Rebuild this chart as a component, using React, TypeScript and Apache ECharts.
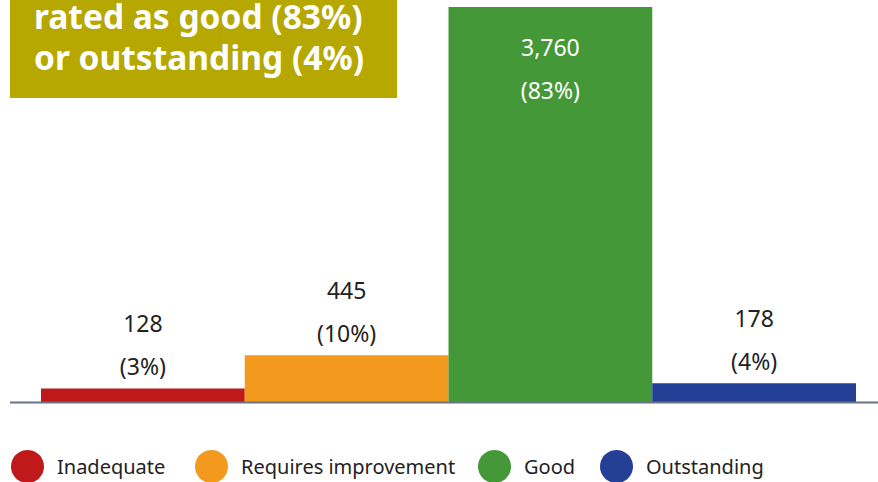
import React, { useEffect, useRef } from "react";
import * as echarts from "echarts";

const categories = ["Inadequate", "Requires improvement", "Good", "Outstanding"];
const counts = [128, 445, 3760, 178];
const percents = [3, 10, 83, 4];
const colors = ["#c0191b", "#f39a1e", "#459837", "#233f96"];
const titleLines = ["rated as good (83%)", "or outstanding (4%)"];
const legendLefts = [11, 195, 478, 600];

export default function App() {
  const ref = useRef<HTMLDivElement>(null);
  useEffect(() => {
    if (!ref.current) return;
    const chart = echarts.init(ref.current, undefined, { renderer: "svg" });
    const fmt = (i: number) => `${counts[i].toLocaleString("en-US")}\n(${percents[i]}%)`;
    const series = categories.map((name, i) => ({
      name,
      type: "bar",
      stack: "all",
      barWidth: "100%",
      data: counts.map((v, j) => (j === i ? v : "-")),
      itemStyle: { color: colors[i] },
      label: {
        show: true,
        position: i === 2 ? "insideTop" : "top",
        distance: i === 2 ? 18 : 1,
        formatter: () => fmt(i),
        color: i === 2 ? "#ffffff" : "#222222",
        fontFamily: "Noto Sans",
        fontSize: 23,
        lineHeight: 43,
      },
    }));
    chart.setOption({
      animation: false,
      grid: { left: 41, right: 22, top: 7, bottom: 80 },
      xAxis: {
        type: "category",
        data: categories,
        axisLine: { show: false },
        axisTick: { show: false },
        axisLabel: { show: false },
      },
      yAxis: { type: "value", min: 0, max: 3760, show: false, splitLine: { show: false } },
      legend: categories.map((name, i) => ({
        data: [name],
        left: legendLefts[i],
        top: 450,
        padding: 0,
        icon: "circle",
        itemWidth: 33,
        itemHeight: 33,
        selectedMode: false,
        textStyle: {
          fontFamily: "Noto Sans",
          fontSize: 20,
          color: "#222222",
          padding: [0, 0, 0, 8],
        },
      })),
      graphic: [
        {
          type: "rect",
          shape: { x: 10, y: -60, width: 387, height: 158 },
          style: { fill: "#b6a800" },
          z: 10,
        },
        {
          type: "text",
          x: 34,
          y: -4.5,
          style: {
            text: titleLines.join("\n"),
            fill: "#ffffff",
            font: "bold 33.5px 'Noto Sans'",
            lineHeight: 41,
            textVerticalAlign: "top",
          },
          z: 11,
        },
        {
          type: "line",
          shape: { x1: 10, y1: 402.5, x2: 878, y2: 402.5 },
          style: { stroke: "#6b7385", lineWidth: 2 },
          z: 12,
        },
      ],
      series,
    });
    return () => chart.dispose();
  }, []);
  return (
    <div
      ref={ref}
      style={{ position: "fixed", left: 0, top: 0, width: 878, height: 482, background: "#fff" }}
    />
  );
}
